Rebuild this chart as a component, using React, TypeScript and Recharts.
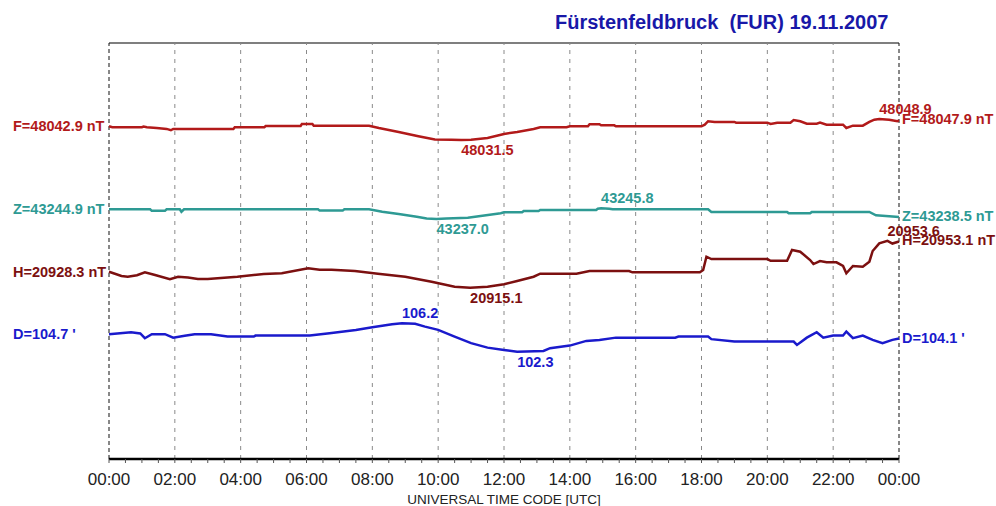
import { LineChart, Line, XAxis, YAxis, ReferenceLine, ReferenceDot } from "recharts";

// hour of day (UTC) and value for each component
const F_T = [0, 0.1, 1.0, 1.05, 1.15, 1.45, 1.75, 1.88, 1.95, 3.78, 3.82, 4.72, 4.76, 5.82, 5.86, 6.18, 6.22, 7.9, 8.2, 8.8, 9.4, 9.9, 10.4, 10.7, 11.0, 11.5, 12.0, 12.4, 12.9, 13.1, 13.9, 14.0, 14.55, 14.6, 14.9, 14.95, 15.35, 15.4, 18.0, 18.1, 18.2, 18.4, 19.0, 19.05, 20.0, 20.1, 20.3, 20.7, 20.8, 21.0, 21.2, 21.5, 21.6, 21.8, 22.3, 22.4, 22.6, 22.9, 23.1, 23.25, 23.4, 23.7, 23.95, 24];
const F_V = [48042.9, 48042.1, 48042.1, 48042.6, 48042.1, 48041.4, 48040.7, 48039.6, 48040.7, 48040.7, 48042.1, 48042.1, 48043.1, 48043.1, 48044.8, 48044.8, 48043.4, 48043.4, 48041.5, 48038.2, 48034.6, 48031.9, 48031.6, 48031.5, 48031.7, 48033.2, 48036.5, 48038.2, 48040.7, 48042.1, 48042.1, 48042.9, 48042.9, 48044.6, 48044.6, 48043.7, 48043.7, 48042.9, 48042.9, 48044.2, 48047.1, 48046.5, 48046.5, 48045.9, 48045.9, 48044.8, 48045.9, 48045.9, 48048.1, 48047.1, 48045.1, 48045.1, 48045.9, 48044.2, 48044.2, 48041.5, 48043.4, 48043.4, 48046.5, 48048.4, 48048.9, 48048.4, 48047.1, 48047.9];

const Z_T = [0, 1.25, 1.3, 1.7, 1.75, 2.15, 2.2, 2.28, 6.35, 6.4, 7.1, 7.15, 7.9, 8.3, 8.8, 9.35, 9.65, 9.95, 10.25, 10.9, 11.9, 12.0, 12.55, 12.6, 13.05, 13.1, 14.8, 14.85, 14.95, 15.2, 15.3, 18.2, 18.3, 20.6, 20.65, 21.3, 21.35, 23.1, 23.3, 23.6, 24];
const Z_V = [43244.9, 43244.9, 43243.6, 43243.6, 43244.9, 43244.9, 43242.9, 43244.9, 43244.9, 43243.8, 43243.8, 43244.9, 43244.9, 43242.9, 43241.0, 43238.8, 43237.3, 43237.0, 43237.3, 43238.0, 43241.6, 43242.4, 43242.4, 43243.5, 43243.5, 43244.3, 43244.3, 43245.4, 43245.8, 43245.4, 43244.9, 43244.9, 43242.7, 43242.7, 43241.6, 43241.6, 43242.7, 43242.7, 43240.0, 43239.4, 43238.5];

const H_T = [0, 0.38, 0.57, 0.85, 1.09, 1.4, 1.85, 2.1, 2.4, 2.7, 3.0, 3.9, 4.7, 5.25, 6.05, 6.4, 6.76, 7.47, 8.17, 9.0, 9.8, 10.5, 10.97, 11.5, 12.0, 12.4, 12.9, 13.1, 14.2, 14.6, 15.8, 15.9, 17.95, 18.05, 18.15, 18.3, 20.0, 20.1, 20.6, 20.75, 21.0, 21.3, 21.4, 21.6, 21.8, 22.1, 22.3, 22.4, 22.6, 22.9, 23.1, 23.2, 23.4, 23.65, 23.8, 24];
const H_V = [20928.3, 20924.8, 20924.2, 20925.4, 20927.8, 20925.6, 20922.1, 20924.2, 20923.5, 20922.3, 20922.3, 20924.2, 20926.4, 20927.0, 20931.1, 20930.0, 20929.9, 20928.9, 20926.7, 20924.2, 20920.1, 20916.0, 20915.1, 20916.0, 20918.0, 20920.7, 20924.2, 20926.7, 20926.7, 20928.9, 20928.9, 20927.8, 20927.8, 20929.7, 20940.6, 20938.7, 20938.7, 20937.3, 20937.3, 20946.1, 20944.7, 20937.9, 20934.6, 20937.1, 20936.0, 20936.0, 20933.0, 20927.0, 20933.0, 20932.4, 20936.5, 20945.3, 20951.6, 20953.6, 20951.4, 20953.1];

const D_T = [0, 0.67, 0.95, 1.09, 1.3, 1.7, 1.95, 2.3, 2.6, 3.1, 3.6, 4.4, 4.45, 6.1, 6.7, 7.5, 8.0, 8.6, 8.9, 9.3, 9.6, 10.0, 10.5, 11.0, 11.5, 12.0, 12.4, 13.2, 13.4, 14.0, 14.5, 14.9, 15.4, 17.2, 17.3, 18.2, 18.3, 19.0, 20.8, 20.9, 21.2, 21.5, 21.7, 22.0, 22.3, 22.4, 22.6, 22.9, 23.2, 23.5, 23.8, 24];
const D_V = [104.7, 104.97, 104.8, 104.15, 104.7, 104.7, 104.23, 104.5, 104.7, 104.7, 104.37, 104.37, 104.51, 104.51, 104.84, 105.29, 105.66, 106.07, 106.2, 106.12, 105.74, 105.29, 104.37, 103.47, 102.86, 102.55, 102.3, 102.4, 102.78, 103.14, 103.78, 103.92, 104.23, 104.23, 104.37, 104.37, 104.02, 103.69, 103.69, 103.23, 104.23, 104.97, 104.23, 104.51, 104.51, 105.06, 104.15, 104.51, 103.92, 103.47, 103.92, 104.1];

const HOURS = [0, 2, 4, 6, 8, 10, 12, 14, 16, 18, 20, 22, 24];
const HOUR_LABELS = ["00:00", "02:00", "04:00", "06:00", "08:00", "10:00", "12:00", "14:00", "16:00", "18:00", "20:00", "22:00", "00:00"];
const TICKS = Array.from({ length: 49 }, (_, i) => i / 2);

const FONT = "'Liberation Sans', Arial, sans-serif";

// each trace gets its own hidden y axis so the four curves stack in one panel
const series = [
  { id: "F", t: F_T, v: F_V, unit: " nT", color: "#b21a1a", domain: [47765.6, 48112.3] },
  { id: "Z", t: Z_T, v: Z_V, unit: " nT", color: "#2e9a94", domain: [43040.2, 43381.2] },
  { id: "H", t: H_T, v: H_V, unit: " nT", color: "#7c1010", domain: [20774.8, 21115.8] },
  { id: "D", t: D_T, v: D_V, unit: " '", color: "#1a1acc", domain: [87.6, 144.6] },
].map((s) => {
  const data = s.t.map((t, i) => ({ t, v: s.v[i] }));
  const iMin = s.v.indexOf(Math.min(...s.v));
  const iMax = s.v.indexOf(Math.max(...s.v));
  return { ...s, data, min: data[iMin], max: data[iMax], first: data[0], last: data[data.length - 1] };
});

const txt = (color: string, x: number | null, dy: number, value: string) => (p: any) => (
  <text x={x ?? p.cx} y={p.cy + dy} fill={color} fontSize={14.5} fontWeight="bold"
    fontFamily={FONT} dominantBaseline="central">{value}</text>
);

export default function App() {
  return (
    <div style={{ position: "absolute", left: 0, top: 0, width: 996, height: 506, background: "#fff" }}>
      <div style={{
        position: "absolute", left: 555, top: 12, fontFamily: FONT, fontWeight: "bold",
        fontSize: 20, color: "#1818a8", whiteSpace: "pre", lineHeight: 1,
      }}>
        {"Fürstenfeldbruck  (FUR) 19.11.2007"}
      </div>
      <LineChart width={996} height={506} margin={{ top: 43, right: 97, bottom: 17, left: 109 }}>
        <XAxis
          dataKey="t" type="number" domain={[0, 24]} ticks={TICKS} interval={0}
          tickFormatter={(h: number) => (h % 2 === 0 ? HOUR_LABELS[HOURS.indexOf(h)] : "")}
          axisLine={{ stroke: "#000", strokeWidth: 2.5 }} tickLine={{ stroke: "#555" }}
          tickSize={4} tickMargin={10} height={30}
          tick={{ fill: "#222", fontSize: 17, fontFamily: FONT }}
          label={{ value: "UNIVERSAL TIME CODE [UTC]", position: "bottom", offset: 5, fill: "#222", fontSize: 13.5, fontFamily: FONT }}
        />
        {series.map((s) => (
          <YAxis key={s.id} yAxisId={s.id} hide domain={s.domain} allowDataOverflow />
        ))}

        <ReferenceLine yAxisId="F" y={series[0].domain[1]} stroke="#555" strokeWidth={1.5} />
        {HOURS.slice(1, -1).map((h) => (
          <ReferenceLine key={h} yAxisId="F" x={h} stroke="#8a8a8a" strokeDasharray="4 5" />
        ))}
        <ReferenceLine yAxisId="F" x={0} stroke="#111" strokeDasharray="4 3" />
        <ReferenceLine yAxisId="F" x={24} stroke="#111" strokeDasharray="4 3" />

        {series.map((s) => (
          <Line key={s.id} yAxisId={s.id} data={s.data} dataKey="v" type="linear"
            stroke={s.color} strokeWidth={2.5} dot={false} isAnimationActive={false} />
        ))}

        {series.map((s) => [
          <ReferenceDot key={s.id + "l"} yAxisId={s.id} x={s.first.t} y={s.first.v} r={0}
            shape={txt(s.color, 13, 0, `${s.id}=${s.first.v.toFixed(1)}${s.unit}`)} />,
          <ReferenceDot key={s.id + "r"} yAxisId={s.id} x={s.last.t} y={s.last.v} r={0}
            shape={txt(s.color, 902, -1, `${s.id}=${s.last.v.toFixed(1)}${s.unit}`)} />,
          <ReferenceDot key={s.id + "min"} yAxisId={s.id} x={s.min.t} y={s.min.v} r={0}
            shape={txt(s.color, null, 10, s.min.v.toFixed(1))} />,
          <ReferenceDot key={s.id + "max"} yAxisId={s.id} x={s.max.t} y={s.max.v} r={0}
            shape={txt(s.color, null, -10, s.max.v.toFixed(1))} />,
        ])}
      </LineChart>
    </div>
  );
}
